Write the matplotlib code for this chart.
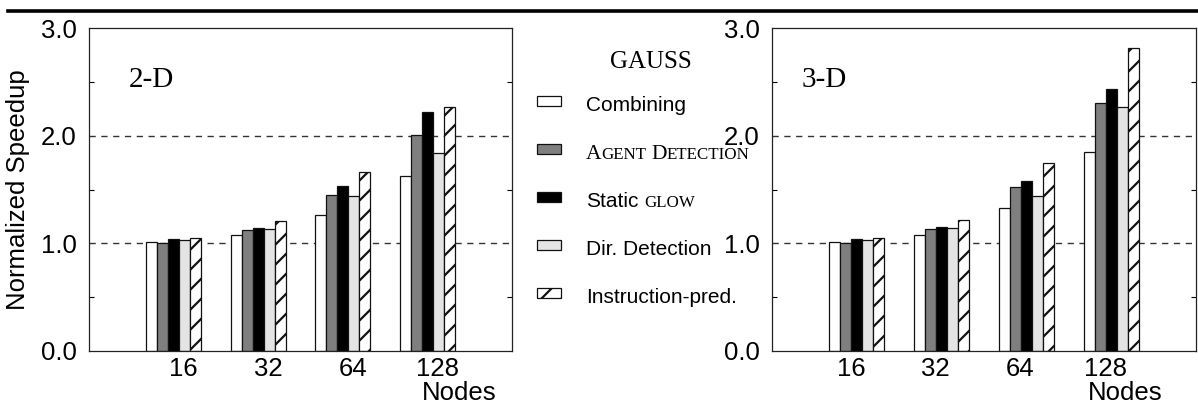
import numpy as np
import matplotlib
matplotlib.use('Agg')
import matplotlib.pyplot as plt
import matplotlib.transforms as mtransforms
from matplotlib import hatch as mhatch
from matplotlib.patches import Rectangle
from matplotlib.lines import Line2D
from matplotlib.ticker import MultipleLocator

plt.rcParams['font.family'] = ['Liberation Sans', 'DejaVu Sans']
plt.rcParams['hatch.linewidth'] = 1.6


# wider-spaced '/' hatch (10 lines per tile instead of 6)
class WideNorthEast(mhatch.NorthEastHatch):
    def __init__(self, hatch, density):
        self.num_lines = int((hatch.count('/') + hatch.count('x') + hatch.count('X'))
                             * density * 10 / 6)
        if self.num_lines:
            self.num_vertices = (self.num_lines + 1) * 2
        else:
            self.num_vertices = 0


mhatch._hatch_types = [WideNorthEast if c is mhatch.NorthEastHatch else c
                       for c in mhatch._hatch_types]

# speedup data, GAUSS benchmark
nodes = ['16', '32', '64', '128']
schemes = ['Combining', 'Agent Detection', 'Static glow', 'Dir. Detection', 'Instruction-pred.']

speedup_2d = {
    'Combining':         [1.01, 1.08, 1.26, 1.63],
    'Agent Detection':   [1.00, 1.12, 1.45, 2.01],
    'Static glow':       [1.04, 1.14, 1.53, 2.22],
    'Dir. Detection':    [1.03, 1.13, 1.44, 1.84],
    'Instruction-pred.': [1.05, 1.21, 1.66, 2.27],
}
speedup_3d = {
    'Combining':         [1.01, 1.08, 1.33, 1.85],
    'Agent Detection':   [1.00, 1.13, 1.52, 2.30],
    'Static glow':       [1.04, 1.15, 1.58, 2.43],
    'Dir. Detection':    [1.03, 1.14, 1.44, 2.27],
    'Instruction-pred.': [1.05, 1.22, 1.75, 2.81],
}

# bar styles
fills = ['white', '#7f7f7f', 'black', '#e4e4e4', 'white']
hatches = [None, None, None, None, '/']

W, H = 1198, 404
fig = plt.figure(figsize=(W / 100, H / 100), dpi=100)


def px_axes(l, r, t, b):
    return fig.add_axes([l / W, 1 - b / H, (r - l) / W, (b - t) / H])


ax_l = px_axes(89, 512, 28, 351)
ax_r = px_axes(772, 1196, 28, 351)


def draw_panel(ax, data, tag, tag_x, lab_off, nodes_x):
    x = np.arange(1, len(nodes) + 1)
    w = 0.13
    for i, s in enumerate(schemes):
        ax.bar(x + (i - 2) * w, data[s], w, color=fills[i], edgecolor='#111111',
               linewidth=0.9, hatch=hatches[i], zorder=2)
    for yy in (1.0, 2.0):
        ax.axhline(yy, color='#333333', lw=1.0, ls=(0, (4.5, 4.0)), zorder=1)
    ax.set_xlim(0, 5)
    ax.set_ylim(0, 3)
    ax.set_xticks(x + lab_off)
    ax.set_xticklabels(nodes, fontsize=18.5)
    ax.tick_params(axis='x', length=0, pad=4)
    ax.set_yticks([0, 1, 2, 3])
    ax.set_yticklabels(['0.0', '1.0', '2.0', '3.0'], fontsize=18.5)
    ax.yaxis.set_minor_locator(MultipleLocator(0.5))
    ax.tick_params(axis='y', which='major', length=0, pad=9)
    ax.tick_params(axis='y', which='minor', length=3.5, direction='in',
                   left=True, right=True, width=0.8)
    for sp in ax.spines.values():
        sp.set_linewidth(0.9)
        sp.set_color('#222222')
    trans = mtransforms.blended_transform_factory(ax.transData, ax.transAxes)
    ax.text(tag_x, 0.84, tag, transform=trans, fontsize=21,
            family='Liberation Serif', va='center', ha='left')
    ax.text(nodes_x, -0.13, 'Nodes', transform=trans,
            fontsize=18.5, ha='center', va='center')


draw_panel(ax_l, speedup_2d, '2-D', 0.47, 0.12, 4.38)
draw_panel(ax_r, speedup_3d, '3-D', 0.35, -0.07, 4.17)
ax_l.set_ylabel('Normalized Speedup', fontsize=18.5, labelpad=8)

# overlay in pixel units for legend and rule
ov = fig.add_axes([0, 0, 1, 1], zorder=-1)
ov.set_xlim(0, W)
ov.set_ylim(H, 0)
ov.axis('off')
ov.add_line(Line2D([8, W], [11, 11], color='black', lw=2.6))

ov.text(651, 62, 'GAUSS', family='Liberation Serif', fontsize=18,
        ha='center', va='center')

renderer = fig.canvas.get_renderer()


def write_parts(x, y, parts):
    # consecutive text pieces sharing one baseline (small caps)
    for txt, size, fam in parts:
        if txt == ' ':
            x += 0.27 * size * 100 / 72
            continue
        t = ov.text(x, y, txt, fontsize=size, family=fam, ha='left', va='baseline')
        x += t.get_window_extent(renderer).width


SANS, SERIF = 'Liberation Sans', 'Liberation Serif'
legend_parts = [
    [('Combining', 15, SANS)],
    [('A', 15.5, SERIF), ('GENT', 12.2, SERIF), (' ', 12.2, SERIF),
     ('D', 15.5, SERIF), ('ETECTION', 12.2, SERIF)],
    [('Static', 15, SANS), (' ', 15, SANS), ('GLOW', 12.2, SERIF)],
    [('Dir. Detection', 15, SANS)],
    [('Instruction-pred.', 15, SANS)],
]
y0, dy = 101, 48
for i, s in enumerate(schemes):
    yc = y0 + i * dy
    ov.add_patch(Rectangle((537, yc - 5), 24, 10, facecolor=fills[i],
                           edgecolor='#111111', lw=0.9,
                           hatch='/' if hatches[i] else None))
    write_parts(586, yc + 10, legend_parts[i])

fig.savefig('out.png', dpi=100)
